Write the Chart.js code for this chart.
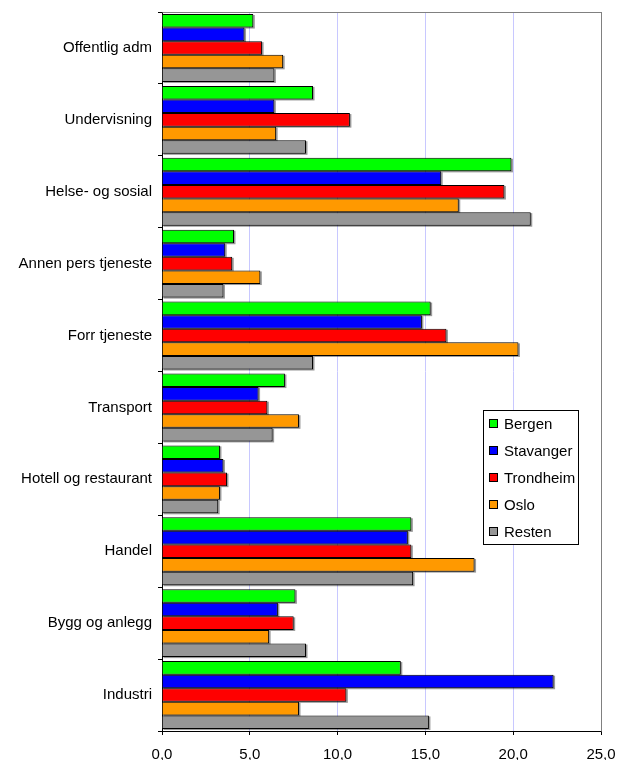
<!DOCTYPE html>
<html><head><meta charset="utf-8">
<script src="https://cdn.jsdelivr.net/npm/chart.js@4"></script>
<style>html,body{margin:0;padding:0;background:#fff}#wrap{width:617px;height:760px}</style>
</head><body><div id="wrap"><canvas id="c" width="617" height="760"></canvas></div>
<script>
const categories = ['Offentlig adm','Undervisning','Helse- og sosial','Annen pers tjeneste','Forr tjeneste','Transport','Hotell og restaurant','Handel','Bygg og anlegg','Industri'];
const seriesNames = ['Bergen','Stavanger','Trondheim','Oslo','Resten'];
const seriesColors = ['#00FF00','#0000FF','#FF0000','#FF9900','#969696'];
const bergen    = [5.2, 8.6, 19.9, 4.1, 15.3, 7.0, 3.3, 14.2, 7.6, 13.6];
const stavanger = [4.7, 6.4, 15.9, 3.6, 14.8, 5.5, 3.5, 14.0, 6.6, 22.3];
const trondheim = [5.7, 10.7, 19.5, 4.0, 16.2, 6.0, 3.7, 14.2, 7.5, 10.5];
const oslo      = [6.9, 6.5, 16.9, 5.6, 20.3, 7.8, 3.3, 17.8, 6.1, 7.8];
const resten    = [6.4, 8.2, 21.0, 3.5, 8.6, 6.3, 3.2, 14.3, 8.2, 15.2];
const xTicks = [0, 5, 10, 15, 20, 25];

const FONT = 'Liberation Sans';
const seriesData = [bergen, stavanger, trondheim, oslo, resten];

const shadowPlugin = {
  id: 'barShadow',
  beforeDatasetsDraw(chart) {
    const ctx = chart.ctx;
    ctx.save();
    ctx.fillStyle = 'rgba(0,0,0,0.4)';
    chart.data.datasets.forEach((ds, i) => {
      chart.getDatasetMeta(i).data.forEach(el => {
        const p = el.getProps(['x', 'y', 'base', 'height'], true);
        ctx.fillRect(p.base + 1, p.y - p.height / 2 + 1, p.x - p.base + 0.5, p.height);
      });
    });
    ctx.restore();
  }
};

const framePlugin = {
  id: 'frame',
  afterDatasetsDraw(chart) {
    const {ctx, chartArea: a} = chart;
    ctx.save();
    ctx.strokeStyle = '#808080';
    ctx.lineWidth = 1;
    ctx.beginPath();
    ctx.moveTo(Math.round(a.left) + 0.5, Math.round(a.top) + 0.5);
    ctx.lineTo(Math.round(a.right) + 0.5, Math.round(a.top) + 0.5);
    ctx.lineTo(Math.round(a.right) + 0.5, Math.round(a.bottom) + 0.5);
    ctx.stroke();
    ctx.restore();
  }
};

const legendPlugin = {
  id: 'boxLegend',
  afterDraw(chart) {
    const ctx = chart.ctx;
    const x = 483.5, y = 410.5, w = 95, h = 134;
    ctx.save();
    ctx.fillStyle = '#fff';
    ctx.fillRect(x, y, w, h);
    ctx.strokeStyle = '#000';
    ctx.lineWidth = 1;
    ctx.strokeRect(x, y, w, h);
    ctx.font = '15px "' + FONT + '"';
    ctx.textBaseline = 'middle';
    chart.data.datasets.forEach((ds, i) => {
      const cy = 424 + i * 27;
      ctx.fillStyle = ds.backgroundColor;
      ctx.fillRect(489.5, cy - 4.5, 8, 8);
      ctx.strokeRect(489.5, cy - 4.5, 8, 8);
      ctx.fillStyle = '#000';
      ctx.fillText(ds.label, 504, cy + 1);
    });
    ctx.restore();
  }
};

new Chart(document.getElementById('c'), {
  type: 'bar',
  data: {
    labels: categories,
    datasets: seriesNames.map((n, i) => ({
      label: n,
      data: seriesData[i],
      backgroundColor: seriesColors[i],
      borderColor: '#000',
      borderWidth: 1,
      barPercentage: 1.0,
      categoryPercentage: 0.945
    }))
  },
  options: {
    indexAxis: 'y',
    responsive: false,
    animation: false,
    devicePixelRatio: 1,
    layout: {padding: {top: 12, right: 16, left: 0, bottom: 0}},
    plugins: {legend: {display: false}, tooltip: {enabled: false}},
    scales: {
      x: {
        min: 0, max: 25,
        afterBuildTicks: s => { s.ticks = xTicks.map(v => ({value: v})); },
        ticks: {
          callback: v => Number(v).toFixed(1).replace('.', ','),
          color: '#000', font: {family: FONT, size: 15}, padding: 11,
          maxRotation: 0, autoSkip: false
        },
        grid: {
          color: c => (c.tick && c.tick.value === 25) ? '#808080' : '#C8C8FF',
          tickColor: '#000', tickLength: 4, drawTicks: true
        },
        border: {color: '#000', width: 1},
        afterFit: s => { s.height = 29; s.paddingLeft = 0; s.paddingRight = 0; s.paddingTop = 0; s.paddingBottom = 0; }
      },
      y: {
        ticks: {color: '#000', font: {family: FONT, size: 15}, padding: 6, autoSkip: false},
        grid: {drawOnChartArea: false, tickColor: '#000', tickLength: 4, offset: true},
        border: {color: '#000', width: 1},
        afterFit: s => { s.width = 162; s.paddingLeft = 0; s.paddingRight = 0; s.paddingTop = 0; s.paddingBottom = 0; }
      }
    }
  },
  plugins: [shadowPlugin, framePlugin, legendPlugin]
});
</script></body></html>
